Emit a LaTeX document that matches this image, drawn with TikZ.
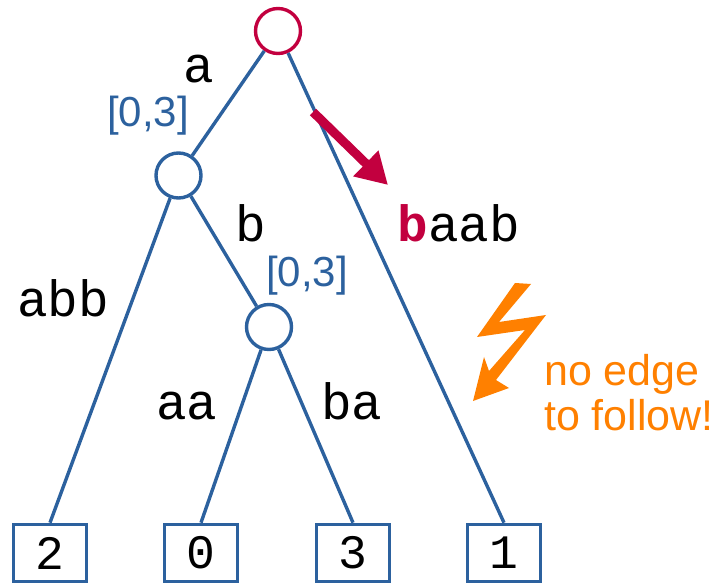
\documentclass[tikz,border=0pt]{standalone}
\usepackage{fontspec}
\setmainfont{Liberation Sans}
\newfontfamily\labelmono{Liberation Mono}
\usetikzlibrary{arrows.meta}
\definecolor{treeblue}{HTML}{2C619E}
\definecolor{rootred}{HTML}{C2003F}
\definecolor{boltorange}{HTML}{FF8000}
\begin{document}
\begin{tikzpicture}[x=1pt,y=-1pt,
  inode/.style={circle,draw=treeblue,line width=3.4pt,minimum size=45pt,inner sep=0pt},
  rootnode/.style={inode,draw=rootred},
  leafbox/.style={rectangle,draw=treeblue,line width=3.6pt,minimum width=73pt,minimum height=57pt,inner sep=0pt,
               font=\labelmono\fontsize{48}{56}\selectfont},
  treeedge/.style={draw=treeblue,line width=3.4pt},
  elabel/.style={anchor=base,inner sep=0pt,font=\labelmono\fontsize{51}{58}\selectfont},
  rangelabel/.style={anchor=base,inner sep=0pt,text=treeblue,font=\fontsize{42}{48}\selectfont},
]
\useasboundingbox (0,0) rectangle (715,585);

% tree nodes
\node[rootnode] (root) at (278,31) {};
\node[inode] (A) at (178.5,175.5) {};
\node[inode] (B) at (269,327) {};
\node[leafbox] (l2) at (50,553) {2};
\node[leafbox] (l0) at (201,553) {0};
\node[leafbox] (l3) at (353,553) {3};
\node[leafbox] (l1) at (504,553) {1};

% edges
\draw[treeedge] (root) -- (A);
\draw[treeedge] (root) -- (l1.north);
\draw[treeedge] (A) -- (l2.north);
\draw[treeedge] (A) -- (B);
\draw[treeedge] (B) -- (l0.north);
\draw[treeedge] (B) -- (l3.north);

% edge labels
\node[elabel] (ta) at (199,83) {a};
\node[elabel] (tb) at (251,242) {b};
\node[elabel] (tabb) at (63,317) {abb};
\node[elabel] (taa) at (187,419) {aa};
\node[elabel] (tba) at (352,419) {ba};
\node[rangelabel] (r1) at (148,127) {[0,3]};
\node[rangelabel] (r2) at (307,287) {[0,3]};

% query string and search step
\node[elabel] (query) at (459,242) {\textcolor{rootred}{\bfseries b}aab};
\coordinate (arrs) at (313,112);
\coordinate (arre) at (388,185);
\draw[rootred,line width=9pt,-{Triangle[length=31pt,width=34pt]}] (arrs) -- (arre);

% failure bolt
\fill[boltorange] (515,283) -- (531,284) -- (499,322) -- (546,315) -- (496,380)
  -- (509,388) -- (473,401) -- (484,357) -- (489,371) -- (525,330) -- (477,337) -- cycle;
\node[anchor=base west,inner sep=0pt,text=boltorange,font=\fontsize{43}{45}\selectfont,
      align=left] (fail) at (544,430) {no edge\\to follow!};
\end{tikzpicture}
\end{document}
